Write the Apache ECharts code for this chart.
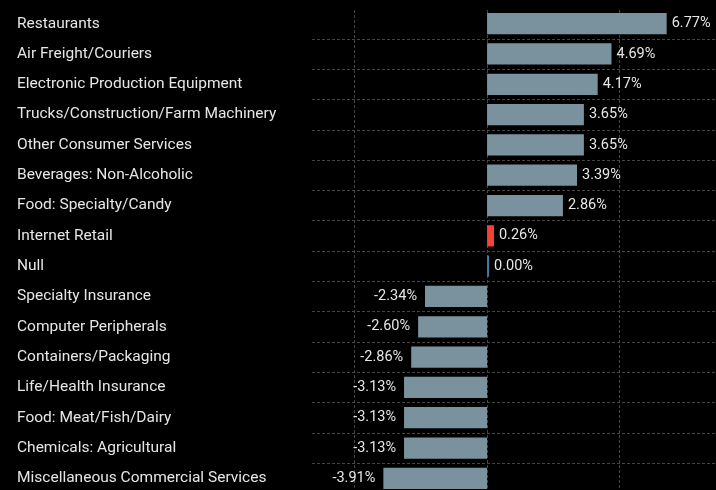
<!DOCTYPE html>
<html>
<head>
<meta charset="utf-8">
<script src="https://cdn.jsdelivr.net/npm/echarts@6/dist/echarts.min.js"></script>
<style>
  html, body { margin: 0; padding: 0; background: #000; }
  #chart { width: 716px; height: 490px; }
</style>
</head>
<body>
<div id="chart"></div>
<script>
const categories = [
  "Restaurants",
  "Air Freight/Couriers",
  "Electronic Production Equipment",
  "Trucks/Construction/Farm Machinery",
  "Other Consumer Services",
  "Beverages: Non-Alcoholic",
  "Food: Specialty/Candy",
  "Internet Retail",
  "Null",
  "Specialty Insurance",
  "Computer Peripherals",
  "Containers/Packaging",
  "Life/Health Insurance",
  "Food: Meat/Fish/Dairy",
  "Chemicals: Agricultural",
  "Miscellaneous Commercial Services"
];
const values = [6.77, 4.69, 4.17, 3.65, 3.65, 3.39, 2.86, 0.26, 0.00, -2.34, -2.60, -2.86, -3.13, -3.13, -3.13, -3.91];
const gridTicks = [-10, 5]; // first guide and step of the vertical guides

// colours for special rows
const special = { "Internet Retail": "#f44336", "Null": "#4a78a8" };
const barColor = "#7a929e";
const lineColor = "#454545";
const font = "Roboto";

let myChart = echarts.init(document.getElementById("chart"));

let seriesData = values.map((v, i) => ({
  value: v,
  itemStyle: { color: special[categories[i]] || barColor },
  label: {
    position: v < 0 ? "left" : "right",
    distance: v < 0 ? 8 : 5,
  },
}));

myChart.setOption({
  backgroundColor: "#000",
  animation: false,
  grid: [
    { left: 312, right: 0, top: 8.5, bottom: -3.5, outerBoundsMode: "none" },
    // wider grid, only used for the dashed vertical guides
    { left: 221.7, right: 0, top: 10, bottom: -3, outerBoundsMode: "none" },
  ],
  xAxis: [
    {
      type: "value",
      gridIndex: 0,
      min: -6.6,
      max: 8.63,
      show: false,
      splitLine: { show: false },
    },
    {
      type: "value",
      gridIndex: 1,
      min: gridTicks[0],
      max: 8.63,
      interval: gridTicks[1],
      axisLine: { show: false },
      axisTick: { show: false },
      axisLabel: { show: false },
      splitLine: {
        show: true,
        showMinLine: false,
        showMaxLine: false,
        lineStyle: { color: lineColor, type: [3, 2], width: 1 },
      },
    },
  ],
  yAxis: [
    {
      type: "category",
      gridIndex: 0,
      data: categories,
      inverse: true,
      axisLine: { show: false },
      axisTick: { show: false },
      axisLabel: {
        align: "left",
        margin: 295,
        color: "#e6e6e6",
        fontSize: 15.5,
        fontFamily: font,
        padding: [3, 0, 0, 0],
      },
      splitLine: {
        show: true,
        showMinLine: false,
        lineStyle: { color: lineColor, type: [3, 2], width: 1 },
      },
    },
    {
      type: "category",
      gridIndex: 1,
      data: categories,
      show: false,
    },
  ],
  series: [
    {
      type: "bar",
      xAxisIndex: 0,
      yAxisIndex: 0,
      data: seriesData,
      barWidth: "70%",
      barMinHeight: 2,
      label: {
        show: true,
        color: "#e6e6e6",
        fontSize: 14.5,
        fontFamily: font,
        padding: [2, 0, 0, 0],
        formatter: (p) => p.value.toFixed(2) + "%",
      },
    },
  ],
});
</script>
</body>
</html>
